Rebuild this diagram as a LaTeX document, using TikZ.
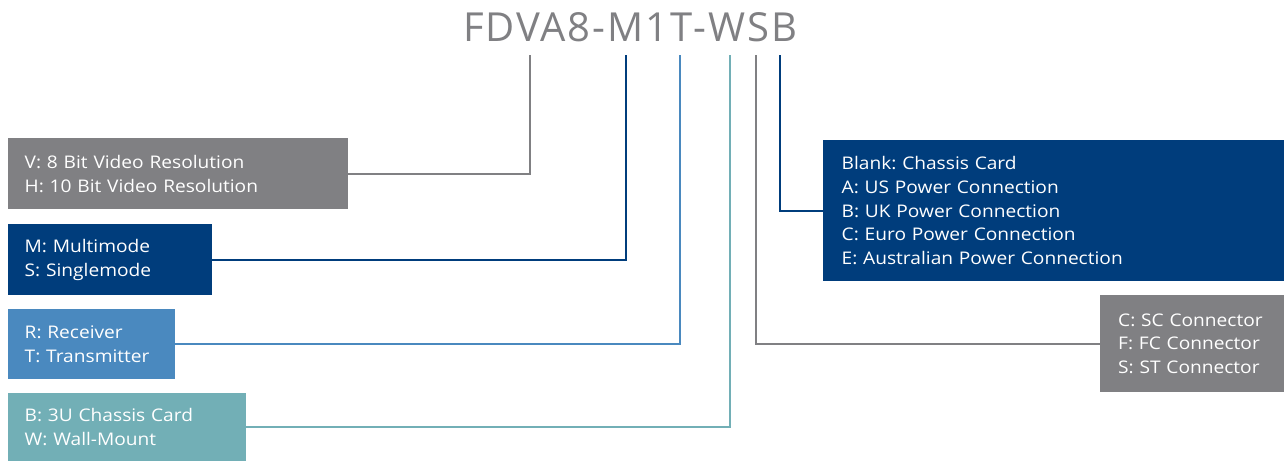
\documentclass[tikz,border=0pt]{standalone}
\usepackage{fontspec}
\setmainfont{Open Sans}[FakeStretch=1.1]
\newfontfamily\titlefont[LetterSpace=5]{Open Sans}
\usetikzlibrary{positioning}
\definecolor{codegray}{HTML}{808083}
\definecolor{codenavy}{HTML}{003D7C}
\definecolor{codeblue}{HTML}{4A89BF}
\definecolor{codeteal}{HTML}{72AFB6}
\tikzset{>=stealth}
\tikzset{optbox/.style={anchor=north west, inner xsep=16.5pt, inner ysep=0pt, align=left, text=white,
    font=\fontsize{17.4}{23.8}\selectfont}}
\tikzset{lead/.style={line width=2pt}}
\frenchspacing

\begin{document}
\begin{tikzpicture}[x=1pt,y=-1pt]
    \useasboundingbox (0,0) rectangle (1284,461);
    \node (code) at (630,27) [text=codegray, font=\titlefont\fontsize{40}{40}\selectfont] {FDVA8-M1T-WSB};
    % option boxes
    \node (optV) at (8,138) [optbox, fill=codegray, minimum width=340pt, minimum height=71pt, text width=307pt] {V: 8 Bit Video Resolution\\H: 10 Bit Video Resolution};
    \node (optM) at (8,224) [optbox, fill=codenavy, minimum width=204pt, minimum height=71pt, text width=171pt] {M: Multimode\\S: Singlemode};
    \node (optR) at (8,309) [optbox, fill=codeblue, minimum width=167pt, minimum height=70pt, text width=134pt] {R: Receiver\\T: Transmitter};
    \node (optB) at (8,393) [optbox, fill=codeteal, minimum width=238pt, minimum height=68pt, text width=205pt] {B: 3U Chassis Card\\W: Wall-Mount};
    \node (optP) at (823,140) [optbox, fill=codenavy, minimum width=461pt, minimum height=141pt, text width=427pt, inner xsep=18.5pt] {Blank: Chassis Card\\A: US Power Connection\\B: UK Power Connection\\C: Euro Power Connection\\E: Australian Power Connection};
    \node (optC) at (1100,295) [optbox, fill=codegray, minimum width=184pt, minimum height=97pt, text width=148pt, inner xsep=18pt] {C: SC Connector\\F: FC Connector\\S: ST Connector};
    % leads from the code
    \coordinate (tV) at (530,55);
    \coordinate (tM) at (626,55);
    \coordinate (tR) at (680,55);
    \coordinate (tB) at (730,55);
    \coordinate (tC) at (756,55);
    \coordinate (tP) at (780,55);
    \draw[lead, codegray] (tV) |- (optV);
    \draw[lead, codenavy] (tM) |- (optM);
    \draw[lead, codeblue] (tR) |- (optR);
    \draw[lead, codeteal] (tB) |- (optB);
    \draw[lead, codegray] (tC) |- (optC);
    \draw[lead, codenavy] (tP) |- (optP);
\end{tikzpicture}
\end{document}
